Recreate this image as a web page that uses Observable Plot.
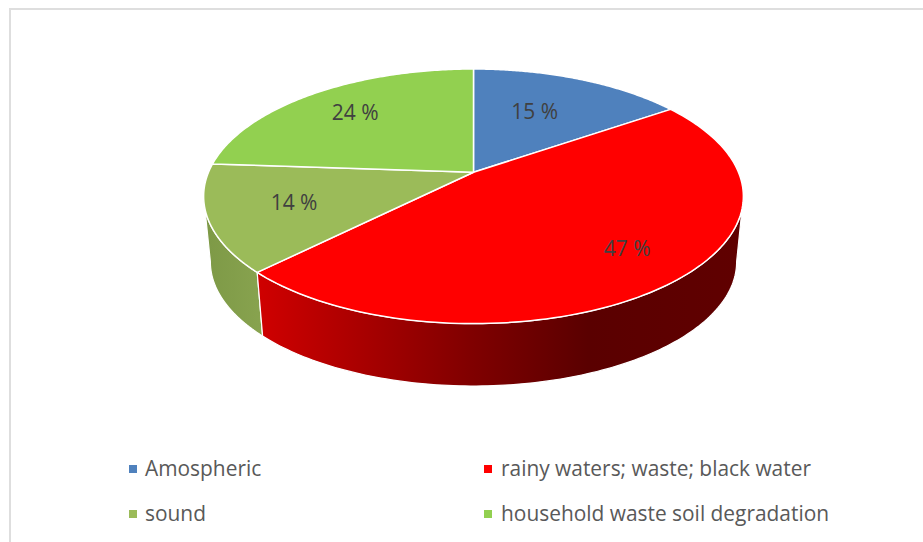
<!DOCTYPE html>
<html>
<head>
<meta charset="utf-8">
<script src="https://cdn.jsdelivr.net/npm/d3@7"></script>
<script src="https://cdn.jsdelivr.net/npm/@observablehq/plot@0.6"></script>
<style>
html,body{margin:0;padding:0;background:#fff;width:923px;height:542px;overflow:hidden}
#frame{position:absolute;left:9px;top:8px;right:-4px;bottom:-4px;border-top:2px solid #dedede;border-left:2px solid #dedede}
#chart{position:absolute;left:0;top:0}
#chart svg{display:block}
.lg{position:absolute;font:20.9px "Open Sans",sans-serif;color:#595959;white-space:nowrap;line-height:28px;height:28px}
.sw{position:absolute;width:8px;height:8px}
</style>
</head>
<body>
<div id="frame"></div>
<div id="chart"></div>
<div id="legend"></div>
<script>
const categories = ["Amospheric", "rainy waters; waste; black water", "sound", "household waste soil degradation"];
const values = [15.4, 47.1, 13.6, 23.9];
const colors = ["#4F81BD", "#FF0000", "#9BBB59", "#92D050"];
const labelRadius = [0.6, 0.765, 0.69, 0.72];
const labelTurn = [-2.6, -2.9, 0, 0];

const k = 0.189;          // perspective of the tilted disc
const total = d3.sum(values);
const starts = d3.cumsum([0, ...values]).map(c => c / total * 2 * Math.PI);

const project = (theta, r = 1) => {
  const u = r * Math.sin(theta), v = -r * Math.cos(theta), w = 1 - k * v;
  return {X: u / w, Y: v / w};
};
const arc = (a, b) => d3.range(0, 121).map(i => a + (b - a) * i / 120);

const faces = categories.flatMap((category, i) => {
  const rim = arc(starts[i], starts[i + 1]).map(t => ({category, ...project(t)}));
  const apex = {category, X: 0, Y: 0};
  return [apex, ...rim, apex];
});

// the wall of the disc: upper rim, then lower rim (smaller and lower by perspective),
// kept to the front part between the two points where the outline turns
const shrink = 0.975, drop = 0.539;
const turnRight = Math.acos(-k), turnLeft = 2 * Math.PI - turnRight;
const wall = i => {
  const top = arc(Math.max(starts[i], turnRight), Math.min(starts[i + 1], turnLeft)).map(t => project(t));
  const low = top.slice().reverse().map(p => ({X: p.X * shrink, Y: p.Y * shrink + drop}));
  const pts = [...top, ...low];
  return [...pts, pts[0]];
};

const labels = categories.map((category, i) => {
  const mid = (starts[i] + starts[i + 1]) / 2 + labelTurn[i] * Math.PI / 180;
  const p = project(mid, labelRadius[i]);
  return {...p, text: `${Math.round(values[i])} %`};
});

const defs = () => {
  const d = d3.create("svg:defs");
  const grad = (id, stops) => {
    const g = d.append("linearGradient").attr("id", id).attr("x1", 0).attr("x2", 1).attr("y1", 0).attr("y2", 0);
    stops.forEach(([o, c]) => g.append("stop").attr("offset", o).attr("stop-color", c));
  };
  grad("sideRed", [[0, "#d00000"], [0.44, "#800000"], [0.68, "#5a0000"], [1, "#600000"]]);
  grad("sideOlive", [[0, "#7d9946"], [1, "#88a34f"]]);
  return d.node();
};

const chart = Plot.plot({
  width: 923,
  height: 430,
  margin: 0,
  x: {axis: null, domain: [-1, 1], range: [208, 738]},
  y: {axis: null, domain: [-1, 1], range: [49, 294.5]},
  color: {domain: categories, range: colors},
  style: {background: "transparent"},
  marks: [
    defs,
    Plot.line(wall(2), {x: "X", y: "Y", fill: "url(#sideOlive)", stroke: "white", strokeWidth: 1.2}),
    Plot.line(wall(1), {x: "X", y: "Y", fill: "url(#sideRed)", stroke: "white", strokeWidth: 1.2}),
    Plot.line(faces, {x: "X", y: "Y", z: "category", fill: "category", stroke: "white", strokeWidth: 1.5}),
    Plot.text(labels, {x: "X", y: "Y", text: "text", fontSize: 21, fill: "#404040", fontFamily: "Open Sans"})
  ]
});
document.getElementById("chart").append(chart);

const legendX = [129, 484], legendY = [465, 510];
const legend = document.getElementById("legend");
categories.forEach((category, i) => {
  const col = i % 2, row = i >> 1;
  const sw = document.createElement("div");
  sw.className = "sw";
  sw.style.cssText = `left:${legendX[col]}px;top:${legendY[row]}px;background:${colors[i]}`;
  const t = document.createElement("div");
  t.className = "lg";
  t.textContent = category;
  t.style.cssText = `left:${legendX[col] + 16 + col}px;top:${legendY[row] - 11}px`;
  legend.append(sw, t);
});
</script>
</body>
</html>
